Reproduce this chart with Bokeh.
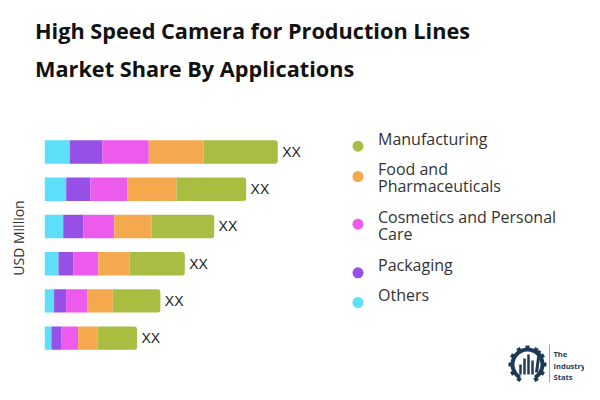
import math
from bokeh.plotting import figure
from bokeh.models import Range1d, Label
from bokeh.core.properties import value
from bokeh.embed import file_html
from bokeh.resources import INLINE

# ---------------- data ----------------
bar_index = [6, 5, 4, 3, 2, 1]          # top bar first
others = [25.0, 21.4, 18.4, 13.7, 9.3, 6.6]
packaging = [32.4, 24.3, 20.0, 14.7, 12.0, 9.7]
cosmetics = [46.6, 37.0, 31.0, 25.0, 21.0, 17.0]
food = [54.7, 49.0, 37.3, 31.3, 25.7, 19.3]
manufacturing = [74.3, 69.7, 62.7, 55.3, 47.6, 39.7]
bar_labels = ["XX"] * 6

segments = ["Others", "Packaging", "Cosmetics and Personal Care",
            "Food and Pharmaceuticals", "Manufacturing"]
colors = ["#5DDEF9", "#9650E8", "#EC5BEC", "#F5A94E", "#A8BD42"]
seg_values = [others, packaging, cosmetics, food, manufacturing]

legend_order = ["Manufacturing", "Food and Pharmaceuticals",
                "Cosmetics and Personal Care", "Packaging", "Others"]
legend_lines = [["Manufacturing"], ["Food and", "Pharmaceuticals"],
                ["Cosmetics and Personal", "Care"], ["Packaging"], ["Others"]]

title_lines = ["High Speed Camera for Production Lines",
               "Market Share By Applications"]
y_title = "USD Million"

W, H = 584, 384


def sy(y_from_top):
    """screen y measured from top -> bokeh screen y (from bottom)"""
    return H - y_from_top


p = figure(width=W, height=H, output_backend="svg", toolbar_location=None,
           x_axis_type=None, y_axis_type=None,
           x_range=Range1d(-44.3, W - 44.3), y_range=Range1d(-0.243, 10.068),
           min_border=0, min_border_left=0, min_border_right=0,
           min_border_top=0, min_border_bottom=0)
p.outline_line_color = None
p.grid.visible = False
p.background_fill_color = "white"
p.extra_x_ranges = {"px": Range1d(0, W)}
p.extra_y_ranges = {"px": Range1d(0, H)}

# stacked bars
left = [0.0] * 6
for i, (name, vals, col) in enumerate(zip(segments, seg_values, colors)):
    right = [l + v for l, v in zip(left, vals)]
    kw = {}
    if i == len(segments) - 1:
        kw["border_radius"] = (0, 3, 3, 0)
    p.hbar(y=bar_index, left=left, right=right, height=0.626,
           fill_color=col, line_color=None, **kw)
    left = right

# value labels
p.text(x=[r + 4.4 for r in left], y=bar_index, text=bar_labels,
       text_font=value("Liberation Sans"), text_font_size="14px",
       text_color="#222222", text_baseline="middle", text_align="left")

# title
for t, yc in zip(title_lines, [30.0, 67.5]):
    p.add_layout(Label(x=34.5, y=sy(yc), x_units="screen",
                       y_units="screen", text=t, text_font="Open Sans",
                       text_font_style="bold", text_font_size="21.7px",
                       text_color="#111111", text_baseline="middle"))

# y axis title
p.add_layout(Label(x=17.7, y=sy(237.5), x_units="screen", y_units="screen",
                   text=y_title, angle=math.pi / 2, text_font="Open Sans",
                   text_font_size="14px", text_color="#333333",
                   text_align="center", text_baseline="middle"))

# legend
text_centers = [[138.8], [168.5, 185.9], [216.2, 233.6], [264.2], [294.7]]
dot_y = [145.7, 176.0, 223.7, 272.3, 302.0]
for name, lines, cents, dy in zip(legend_order, legend_lines, text_centers, dot_y):
    col = colors[segments.index(name)]
    p.scatter(x=[357.5], y=[sy(dy)], size=11, marker="circle",
              fill_color=col, line_color=None,
              x_range_name="px", y_range_name="px")
    for ln, yc in zip(lines, cents):
        p.add_layout(Label(x=377.5, y=sy(yc),
                           x_units="screen", y_units="screen", text=ln,
                           text_font="Open Sans", text_font_size="16px",
                           text_color="#333333", text_baseline="middle"))

# logo (decorative)
navy = "#1F3A56"
dx, dyy = -5, -6
cx, cy = 532 + dx, sy(370 + dyy)
p.annular_wedge(x=[cx], y=[cy], inner_radius=13, outer_radius=17,
                start_angle=math.radians(-60), end_angle=math.radians(240),
                fill_color=navy, line_color=None,
                x_range_name="px", y_range_name="px")
teeth = [math.radians(a) for a in range(-60, 241, 30)]
p.rect(x=[cx + 17 * math.cos(a) for a in teeth],
       y=[cy + 17 * math.sin(a) for a in teeth],
       width=4, height=4, angle=teeth, fill_color=navy, line_color=None,
       x_range_name="px", y_range_name="px")
bx = [cx - 7, cx - 3, cx + 1, cx + 5]
bh = [10, 16, 20, 14]
p.vbar(x=bx, bottom=[cy - 10] * 4, top=[cy - 10 + h for h in bh], width=2.5,
       fill_color=navy, line_color=None, x_range_name="px", y_range_name="px")
p.segment(x0=[cx + 9], y0=[cy - 8], x1=[cx + 12], y1=[cy + 14],
          line_color=navy, line_width=3, x_range_name="px", y_range_name="px")
p.segment(x0=[554 + dx], y0=[sy(350 + dyy)], x1=[554 + dx], y1=[sy(388 + dyy)],
          line_color="#9AA5B1", line_width=1, x_range_name="px", y_range_name="px")
for t, yc in zip(["The", "Industry", "Stats"], [359.7, 371.0, 382.0]):
    p.add_layout(Label(x=558 + dx, y=sy(yc + dyy), x_units="screen", y_units="screen",
                       text=t, text_font="Open Sans", text_font_style="bold",
                       text_font_size="7.5px", text_color=navy,
                       text_baseline="middle"))

open("out.html", "w").write(file_html(p, INLINE))
